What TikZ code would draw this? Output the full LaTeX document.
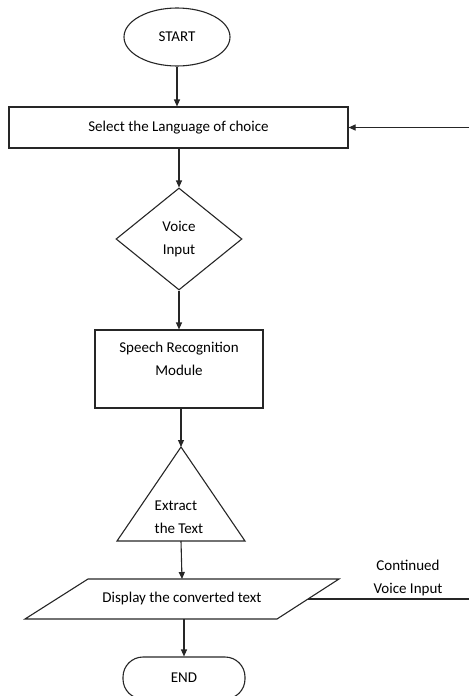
\documentclass[tikz,border=0pt]{standalone}
\usepackage{fontspec}
\setmainfont{Carlito}
\usetikzlibrary{shapes.geometric,arrows.meta}
\begin{document}
\begin{tikzpicture}[x=1pt,y=-1pt,
  every node/.style={font=\fontsize{15}{23}\selectfont, text=black},
  shp/.style={draw=black!85, line width=1.1pt},
  arr/.style={draw=black!85, line width=1.1pt, -{Triangle[length=7pt,width=6pt]}},
  ln/.style={draw=black!85, line width=1.1pt}]
\useasboundingbox (0,0) rectangle (469,696);
\clip (0,0) rectangle (469,696);
% shapes
\node[shp, ellipse, minimum width=106pt, minimum height=58pt, inner sep=0pt] (start) at (177,37) {START};
\node[shp, rectangle, minimum width=339pt, minimum height=41pt, inner sep=0pt] (select) at (178.5,127.5) {Select the Language of choice};
\node[shp, diamond, minimum width=126pt, minimum height=102pt, aspect=1.235, inner sep=0pt, align=center] (voice) at (179,239) {Voice\\Input};
\node[shp, rectangle, minimum width=168pt, minimum height=78pt] (speech) at (179,369) {};
\node[align=center] (speechtxt) at (179,358.5) {Speech Recognition\\Module};
\draw[shp] (181,447) -- (245,541) -- (117,541) -- cycle;
\coordinate (tritop) at (181,447);
\coordinate (tribot) at (181,541);
\node[align=left] (extract) at (179,517) {Extract\\the Text};
\draw[shp] (88,579) -- (339,579) -- (277,619) -- (25,619) -- cycle;
\coordinate (disptop) at (182,579);
\coordinate (dispbot) at (184,619);
\node (disp) at (182,598) {Display the converted text};
\node[shp, rectangle, rounded corners=20pt, minimum width=122pt, minimum height=42pt] (end) at (184,678) {END};
% connectors
\draw[arr] (start.south) -- (start.south |- select.north);
\draw[arr] (select.south -| voice.north) -- (voice.north);
\draw[arr] (voice.south) -- (voice.south |- speech.north);
\draw[arr] (speech.south -| tritop) -- (tritop);
\draw[arr] (tribot) -- (disptop);
\draw[arr] (dispbot) -- (dispbot |- end.north);
\coordinate (loopin) at (469,127.5);
\draw[arr] (loopin) -- (select.east);
\coordinate (slant) at (308,599);
\coordinate (rightend) at (469,599);
\draw[ln] (slant) -- (rightend);
\node[align=center] (cont) at (408,578) {Continued\\Voice Input};
\end{tikzpicture}
\end{document}
